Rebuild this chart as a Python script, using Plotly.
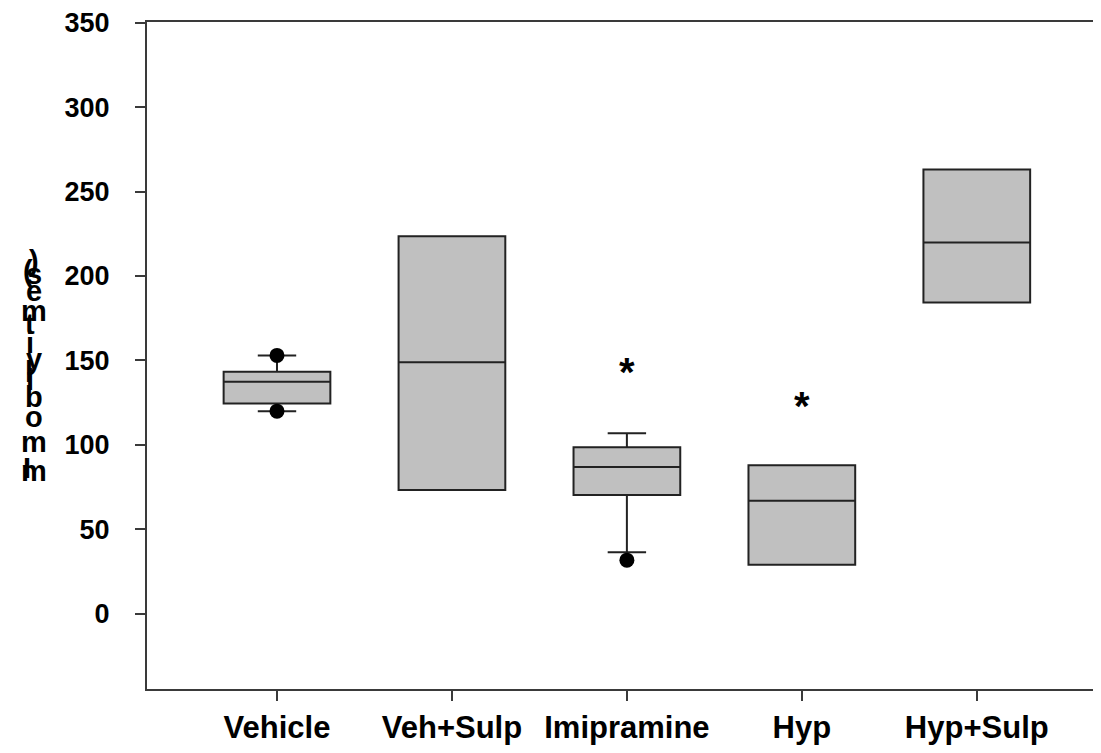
import plotly.graph_objects as go

# ---------------------------------------------------------
# DATA
# ---------------------------------------------------------
groups = ["Vehicle", "Veh+Sulp", "Imipramine", "Hyp", "Hyp+Sulp"]
q1 = [124.6, 73.3, 70.4, 29.0, 184.3]
median = [137.4, 149.0, 86.9, 67.0, 219.8]
q3 = [143.3, 223.5, 98.6, 88.0, 263.0]
lower_whisker = [120.0, 73.3, 36.5, 29.0, 184.3]
upper_whisker = [153.0, 223.5, 106.9, 88.0, 263.0]

outlier_groups = ["Vehicle", "Vehicle", "Imipramine"]
outlier_values = [153.0, 120.0, 31.8]

star_groups = ["Imipramine", "Hyp"]
star_values = [148.0, 128.0]

y_ticks = [0, 50, 100, 150, 200, 250, 300, 350]

# y-axis title as it appears in the source: letters stacked vertically
ylabel_chars = [")", "(", "s", "e", "m", "t", "i", "y", "l", "i", "b", "o", "m", "m", "I"]
ylabel_px = [261, 271, 274, 291, 311, 324, 343, 359, 372, 380, 397, 417, 442, 471, 468]
ylabel_dx = [0, -6, 0, 0, 0, -4, -4, 0, -5, -4, 0, 0, 0, 0, -7]

# ---------------------------------------------------------
# FIGURE  (page has an 8px body margin, so size the figure to fit)
# ---------------------------------------------------------
OFF = 8
W, H = 1101 - OFF, 753 - 2 * OFF
L, R, T, B = 147 - OFF, 0, 22 - OFF, (753 - OFF) - 689
plot_h = H - T - B

fig = go.Figure()

fig.add_trace(go.Box(
    x=groups,
    q1=q1, median=median, q3=q3,
    lowerfence=lower_whisker, upperfence=upper_whisker,
    fillcolor="#c0c0c0",
    line=dict(color="#222222", width=2),
    width=0.61,
    whiskerwidth=0.36,
    boxpoints=False,
    showlegend=False,
    hoverinfo="skip",
))

fig.add_trace(go.Scatter(
    x=outlier_groups, y=outlier_values,
    mode="markers",
    marker=dict(color="black", size=15, symbol="circle"),
    showlegend=False, hoverinfo="skip",
))

for g, v in zip(star_groups, star_values):
    fig.add_annotation(
        x=g, y=v, text="<b>*</b>", showarrow=False,
        font=dict(family="Liberation Sans, Arial", size=40, color="black"),
        yanchor="middle", yshift=-8,
    )

for ch, py, dx in zip(ylabel_chars, ylabel_px, ylabel_dx):
    fig.add_annotation(
        xref="paper", yref="paper",
        x=(34 + dx - 147) / (1101 - 147), y=(689 - py) / plot_h,
        text=f"<b>{ch}</b>", showarrow=False,
        font=dict(family="Liberation Sans, Arial", size=29, color="black"),
        xanchor="center", yanchor="middle",
    )

fig.update_layout(
    width=W, height=H,
    margin=dict(l=L, r=R, t=T, b=B, pad=0),
    plot_bgcolor="white", paper_bgcolor="white",
    font=dict(family="Liberation Sans, Arial", color="black"),
    xaxis=dict(
        type="category",
        range=[-0.743, 4.71],
        showline=True, linecolor="#3a3a3a", linewidth=2, mirror=True,
        ticks="outside", ticklen=10, tickwidth=2, tickcolor="#3a3a3a",
        tickfont=dict(size=31),
        tickvals=groups,
        ticktext=[f"<b>{g}</b>" for g in groups],
        ticklabelstandoff=0,
        showgrid=False, zeroline=False,
    ),
    yaxis=dict(
        range=[-44.5, 350.4],
        showline=True, linecolor="#3a3a3a", linewidth=2,
        ticks="outside", ticklen=10, tickwidth=2, tickcolor="#3a3a3a",
        tickvals=y_ticks,
        ticktext=[f"<b>{t}</b>" for t in y_ticks],
        tickfont=dict(size=27),
        ticklabelstandoff=20,
        showgrid=False, zeroline=False,
    ),
)

fig.write_html("out.html")
